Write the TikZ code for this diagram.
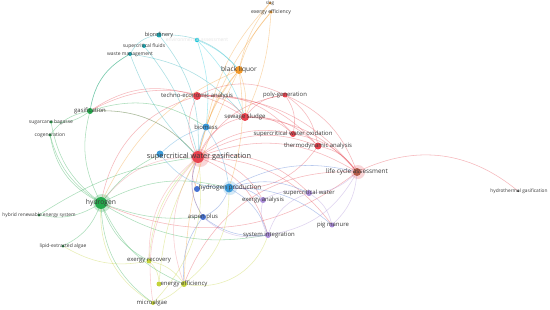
\documentclass[tikz,border=0pt]{standalone}
\usepackage{fontspec}
\setmainfont{Open Sans}
\usetikzlibrary{backgrounds}
\definecolor{cred}{HTML}{E8434E}
\definecolor{cgreen}{HTML}{22A84A}
\definecolor{cdgreen}{HTML}{1E7F3A}
\definecolor{cteal}{HTML}{1BA9B5}
\definecolor{ccyan}{HTML}{19C8DC}
\definecolor{corange}{HTML}{F39A2A}
\definecolor{cblue}{HTML}{3A9AD9}
\definecolor{cdblue}{HTML}{4470D2}
\definecolor{cpurple}{HTML}{A98BD8}
\definecolor{cyel}{HTML}{C4D33A}
\definecolor{cbrown}{HTML}{B45C4A}
\definecolor{ctext}{HTML}{3A3A3A}
\tikzset{
  dot/.style={circle, inner sep=0pt, draw=none},
  lbl/.style={text=ctext, inner sep=0pt},
  fs/.style={font=\fontsize{#1}{#1}\selectfont},
  med/.style={fs=6.0},
  tiny/.style={fs=5.0},
  link/.style={line width=0.55pt, draw opacity=0.38},
}
\begin{document}
\begin{tikzpicture}[x=1bp,y=-1bp]
\useasboundingbox (0,0) rectangle (550,309);
% nodes
\node[dot, fill=cred, minimum size=12] (scwg) at (198,157) {};
\node[dot, fill=cblue, minimum size=7] (u1) at (160,154) {};
\node[dot, fill=cgreen, minimum size=12] (hyd) at (101,203) {};
\node[dot, fill=cgreen, minimum size=6] (gas) at (90,111) {};
\node[dot, fill=cgreen, minimum size=3.5] (sug) at (51,122) {};
\node[dot, fill=cgreen, minimum size=3.5] (cog) at (50,135) {};
\node[dot, fill=cdgreen, minimum size=3] (hyb) at (39,215) {};
\node[dot, fill=cdgreen, minimum size=3] (lip) at (63,246) {};
\node[dot, fill=cteal, minimum size=5] (bior) at (159,35) {};
\node[dot, fill=cteal, minimum size=4] (scf) at (144,46) {};
\node[dot, fill=cteal, minimum size=4] (waste) at (130,54) {};
\node[dot, fill=ccyan, minimum size=4.5] (u2) at (197,40) {};
\node[dot, fill=corange, minimum size=8] (bl) at (239,70) {};
\node[dot, fill=corange, minimum size=3] (slag) at (270,3) {};
\node[dot, fill=corange, minimum size=3.5] (exe) at (271,12) {};
\node[dot, fill=cred, minimum size=8] (tea) at (197,96) {};
\node[dot, fill=cred, minimum size=5] (poly) at (285,95) {};
\node[dot, fill=cred, minimum size=8] (sew) at (245,117) {};
\node[dot, fill=cblue, minimum size=7] (bio) at (206,127) {};
\node[dot, fill=cred, minimum size=6] (scwo) at (293,134) {};
\node[dot, fill=cred, minimum size=7] (thermo) at (318,146) {};
\node[dot, fill=cbrown, minimum size=8] (lca) at (357,172) {};
\node[dot, fill=black, minimum size=2] (htg) at (518,191) {};
\node[dot, fill=cblue, minimum size=9] (h2p) at (229,188) {};
\node[dot, fill=cdblue, minimum size=6] (u3) at (197,189) {};
\node[dot, fill=cpurple, minimum size=6] (exa) at (263,200) {};
\node[dot, fill=cpurple, minimum size=6] (scw) at (309,193) {};
\node[dot, fill=cdblue, minimum size=6] (asp) at (203,217) {};
\node[dot, fill=cpurple, minimum size=5] (pig) at (332,225) {};
\node[dot, fill=cpurple, minimum size=6] (sys) at (268,235) {};
\node[dot, fill=cyel, minimum size=5] (exr) at (149,261) {};
\node[dot, fill=cyel, minimum size=6] (ene) at (184,284) {};
\node[dot, fill=cyel, minimum size=5] (u4) at (159,284) {};
\node[dot, fill=cyel, minimum size=4] (mic) at (153,303) {};
% labels
\node[lbl, fs=7.4] (Lscwg) at (199,157) {supercritical water gasification};
\node[lbl, fs=6.8] (Lhyd) at (101,203) {hydrogen};
\node[lbl, med] (Lgas) at (90,111) {gasification};
\node[lbl, tiny] (Lsug) at (51,122) {sugarcane bagasse};
\node[lbl, tiny] (Lcog) at (50,135) {cogeneration};
\node[lbl, fs=4.85] (Lhyb) at (39,215) {hybrid renewable energy system};
\node[lbl, tiny] (Llip) at (63,246) {lipid-extracted algae};
\node[lbl, fs=5.6] (Lbior) at (159,35) {biorefinery};
\node[lbl, tiny] (Lscf) at (144,46) {supercritical fluids};
\node[lbl, tiny] (Lwaste) at (130,54) {waste management};
\node[lbl, tiny, text=black!10] (Lu2) at (197,40) {environmental assessment};
\node[lbl, fs=6.6] (Lbl) at (239,70) {black liquor};
\node[lbl, fs=4.6] (Lslag) at (270,3.5) {slag};
\node[lbl, fs=5.2] (Lexe) at (271,12) {exergy efficiency};
\node[lbl, med] (Ltea) at (197,96) {techno-economic analysis};
\node[lbl, med] (Lpoly) at (285,95) {poly-generation};
\node[lbl, fs=6.1] (Lsew) at (245,117) {sewage sludge};
\node[lbl, med] (Lbio) at (206,127) {biomass};
\node[lbl, med] (Lscwo) at (293,134) {supercritical water oxidation};
\node[lbl, med] (Lthermo) at (318,146) {thermodynamic analysis};
\node[lbl, fs=6.4] (Llca) at (357,172) {life cycle assessment};
\node[lbl, fs=4.8] (Lhtg) at (519,191) {hydrothermal gasification};
\node[lbl, fs=6.4] (Lh2p) at (230,188) {hydrogen production};
\node[lbl, med] (Lexa) at (263,200) {exergy analysis};
\node[lbl, med] (Lscw) at (309,193) {supercritical water};
\node[lbl, med] (Lasp) at (203,217) {aspen plus};
\node[lbl, med] (Lpig) at (333,225) {pig manure};
\node[lbl, med] (Lsys) at (269,235) {system integration};
\node[lbl, med] (Lexr) at (149,261) {exergy recovery};
\node[lbl, med] (Lene) at (184,284) {energy efficiency};
\node[lbl, med] (Lmic) at (152,303) {microalgae};
% links
\begin{scope}[on background layer]
\fill[white] (0,0) rectangle (550,309);
% halos
\fill[cred!22] (200,158) circle (9);
\fill[cgreen!25] (102,203) circle (9);
\fill[cred!22] (358,172) circle (7);
\fill[cblue!22] (230,188) circle (7);
% red
\foreach \t in {tea,sew,poly,scwo,thermo,lca,scw,pig,sys,exa}
  \draw[link, cred] (scwg) to[bend left=25] (\t);
\foreach \t in {hyd,gas,asp,ene,exr,mic,u3}
  \draw[link, cred!70] (scwg) to[bend right=25] (\t);
\draw[link, cred] (lca) to[bend left=32] (htg);
\foreach \t in {lca,sew,thermo,scwo,poly}
  \draw[link, cred] (tea) to[bend left=25] (\t);
\draw[link, cred] (tea) to[bend right=30] (hyd);
\draw[link, cred] (tea) to[bend right=25] (gas);
\foreach \t in {lca,scwo,thermo,poly}
  \draw[link, cred] (sew) to[bend left=22] (\t);
\foreach \t in {lca,thermo,scwo}
  \draw[link, cred] (poly) to[bend left=22] (\t);
\draw[link, cred] (thermo) to[bend left=20] (lca);
\draw[link, cred] (scwo) to[bend left=20] (lca);
\draw[link, cred] (lca) to[bend right=35] (ene);
\draw[link, cred] (lca) to[bend left=30] (hyd);
\draw[link, cred] (sew) to[bend right=30] (gas);
\draw[link, cred] (thermo) to[bend left=28] (h2p);
% orange
\draw[link, corange] (bl) to[bend left=12] (slag);
\draw[link, corange] (bl) to[bend left=12] (exe);
\draw[link, corange] (exe) to[bend left=10] (sew);
\draw[link, corange] (exe) to[bend right=12] (scwg);
\draw[link, corange] (slag) to[bend right=15] (bio);
\draw[link, corange] (bl) to[bend right=12] (scwg);
\draw[link, corange] (bl) to[bend right=10] (bio);
\draw[link, corange] (bl) to[bend left=12] (sew);
\draw[link, corange] (bl) to[bend right=20] (hyd);
\draw[link, corange] (bl) to[bend right=12] (ene);
\draw[link, corange] (bl) to[bend left=12] (h2p);
% teal
\draw[link, cteal] (bior) to[bend left=25] (bl);
\draw[link, cteal] (bior) to[bend left=20] (scwg);
\draw[link, cteal] (bior) to[bend right=25] (waste);
\draw[link, cteal] (scf) to[bend left=12] (scwg);
\draw[link, cteal] (waste) to[bend right=25] (gas);
\draw[link, cteal] (waste) to[bend left=20] (sew);
\draw[link, cteal] (waste) to[bend right=12] (scwg);
\draw[link, ccyan] (u2) to[bend left=12] (bl);
\draw[link, ccyan] (u2) to[bend left=12] (bio);
\draw[link, ccyan] (u2) to[bend left=12] (sew);
% green
\foreach \t in {sug,cog,hyb,lip}
  \draw[link, cgreen] (hyd) to[bend left=20] (\t);
\draw[link, cgreen] (hyd) to[bend left=20] (gas);
\draw[link, cgreen] (gas) to[bend left=20] (sug);
\draw[link, cgreen] (gas) to[bend right=20] (cog);
\draw[link, cgreen] (gas) to[bend left=25] (scwg);
\draw[link, cgreen] (gas) to[bend left=25] (bio);
\draw[link, cgreen] (gas) to[bend left=25] (waste);
\draw[link, cgreen] (cog) to[bend right=25] (hyd);
\draw[link, cgreen] (hyd) to[bend left=20] (h2p);
\draw[link, cgreen] (hyd) to[bend right=12] (asp);
\draw[link, cgreen] (hyd) to[bend right=20] (sys);
\draw[link, cgreen] (hyd) to[bend right=20] (exr);
\draw[link, cgreen] (hyd) to[bend right=20] (ene);
\draw[link, cgreen] (hyd) to[bend right=25] (mic);
\draw[link, cgreen] (hyd) to[bend left=12] (u1);
\draw[link, cgreen] (hyb) to[bend left=12] (scwg);
% blue
\foreach \t in {asp,exa,scw,lca,sys,pig}
  \draw[link, cdblue] (h2p) to[bend left=20] (\t);
\draw[link, cblue, line width=0.9pt] (bio) to[bend right=6] (scwg);
\draw[link, cblue] (bio) to[bend left=12] (h2p);
\draw[link, cblue] (u1) to[bend left=12] (bio);
\draw[link, cblue] (u1) to[bend right=25] (h2p);
\draw[link, cdblue] (asp) to[bend right=20] (ene);
\draw[link, cdblue] (asp) to[bend right=20] (sys);
\draw[link, cdblue] (u3) to[bend left=12] (h2p);
\draw[link, cdblue] (asp) to[bend left=25] (scwg);
% purple
\draw[link, cpurple] (scw) to[bend left=20] (pig);
\draw[link, cpurple] (scw) to[bend right=20] (exa);
\draw[link, cpurple] (scw) to[bend right=20] (lca);
\draw[link, cpurple] (sys) to[bend right=25] (lca);
\draw[link, cpurple] (exa) to[bend right=20] (sys);
\draw[link, cpurple] (pig) to[bend right=20] (lca);
\draw[link, cpurple] (sys) to[bend left=25] (asp);
\draw[link, cpurple] (scw) to[bend right=25] (sys);
% yellow
\draw[link, cyel] (ene) to[bend right=20] (exr);
\draw[link, cyel] (ene) to[bend left=12] (mic);
\draw[link, cyel] (u4) to[bend right=20] (exr);
\draw[link, cyel] (u4) to[bend left=12] (scwg);
\draw[link, cyel] (exr) to[bend left=20] (scwg);
\draw[link, cyel] (mic) to[bend left=30] (hyd);
\draw[link, cyel] (mic) to[bend right=25] (scwg);
\draw[link, cyel] (ene) to[bend right=40] (sys);
\draw[link, cyel] (ene) to[bend right=25] (h2p);
\draw[link, cyel] (exr) to[bend left=20] (lip);
\end{scope}
\end{tikzpicture}
\end{document}
